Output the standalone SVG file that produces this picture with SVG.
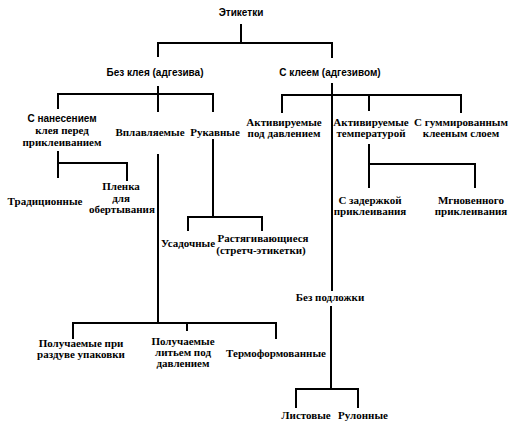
<svg xmlns="http://www.w3.org/2000/svg" width="515" height="430" viewBox="0 0 515 430">
<style>
.c{stroke:#000;stroke-width:2;fill:none;stroke-linecap:square}
text{font-family:"Liberation Serif","Times New Roman",serif;font-weight:bold;font-size:11px;fill:#000;text-anchor:middle}
.s{font-family:"Liberation Sans",Arial,sans-serif;font-size:10px}
</style>
<rect width="515" height="430" fill="#fff"/>
<g id="connectors" class="c">
<path d="M241 25V43M158 43H332M158 43V56M332 43V57"/>
<path d="M158 87V94M58 94H213M58 94V108M158 94V111M213 94V111"/>
<path d="M332 84V290M282 95H461M282 95V112M369 95V110M461 95V112"/>
<path d="M58 152V163H127M58 163V177M127 163V180"/>
<path d="M158 155V323M73 323H276M73 323V338M187 323V330M276 323V338"/>
<path d="M213 140V217M188 217H262M188 217V230M262 217V230"/>
<path d="M369 145V187M369 164H475V187"/>
<path d="M331 307V389M296 389H358M296 389V407M358 389V407"/>
</g>
<g id="n_root"><text class="s" x="241" y="16">Этикетки</text></g>
<g id="n_noglue"><text class="s" x="155" y="76">Без клея (адгезива)</text></g>
<g id="n_glue"><text class="s" x="330" y="76">С клеем (адгезивом)</text></g>
<g id="n_apply"><text class="s" x="62" y="122">С нанесением</text><text x="62" y="134">клея перед</text><text x="62" y="146">приклеиванием</text></g>
<g id="n_inmold"><text x="150" y="136">Вплавляемые</text></g>
<g id="n_sleeve"><text x="215" y="136">Рукавные</text></g>
<g id="n_trad"><text x="45" y="205">Традиционные</text></g>
<g id="n_wrap"><text x="121" y="190">Пленка</text><text x="121" y="202">для</text><text x="122" y="213">обертывания</text></g>
<g id="n_shrink"><text x="188" y="247">Усадочные</text></g>
<g id="n_stretch"><text x="263" y="242">Растягивающиеся</text><text x="261" y="254">(стретч-этикетки)</text></g>
<g id="n_blow"><text x="81" y="347">Получаемые при</text><text x="81" y="358">раздуве упаковки</text></g>
<g id="n_inject"><text x="183" y="345">Получаемые</text><text x="183" y="356">литьем под</text><text x="183" y="367">давлением</text></g>
<g id="n_thermo"><text x="276" y="357">Термоформованные</text></g>
<g id="n_pressure"><text x="284" y="126">Активируемые</text><text x="284" y="137">под давлением</text></g>
<g id="n_heat"><text x="371" y="126">Активируемые</text><text x="371" y="137">температурой</text></g>
<g id="n_gum"><text x="461" y="126">С гуммированным</text><text x="461" y="137">клееным слоем</text></g>
<g id="n_delay"><text x="370" y="204">С задержкой</text><text x="370" y="215">приклеивания</text></g>
<g id="n_instant"><text x="471" y="204">Мгновенного</text><text x="471" y="215">приклеивания</text></g>
<g id="n_liner"><text x="330" y="301">Без подложки</text></g>
<g id="n_sheet"><text x="306" y="419">Листовые</text></g>
<g id="n_roll"><text x="363" y="419">Рулонные</text></g>
</svg>
